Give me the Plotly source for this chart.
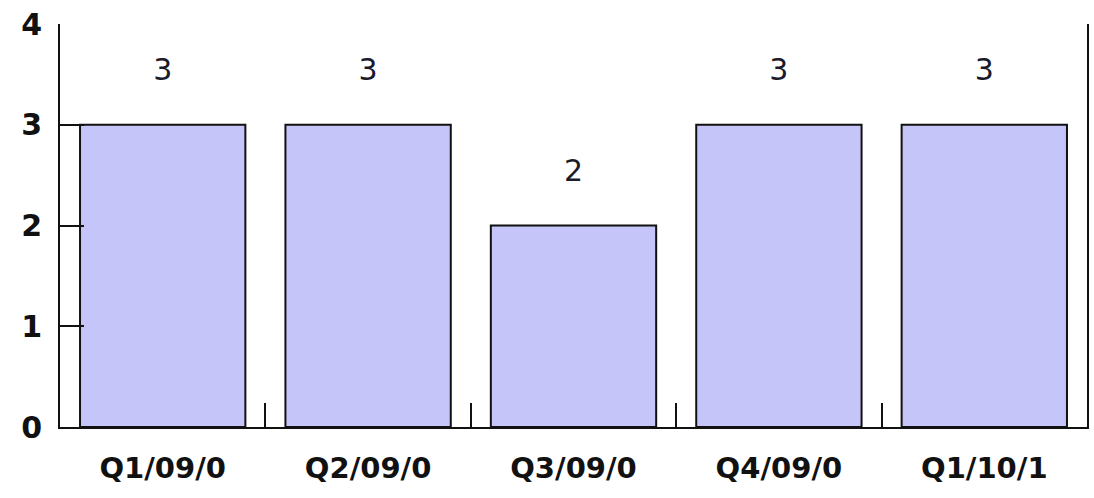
import plotly.graph_objects as go

categories = ["Q1/09/0", "Q2/09/0", "Q3/09/0", "Q4/09/0", "Q1/10/1"]
values = [3, 3, 2, 3, 3]
y_ticks = [0, 1, 2, 3, 4]
label_offset = 0.52

fig = go.Figure()
fig.add_trace(go.Bar(
    x=categories, y=values,
    marker=dict(color="#C5C5FA", line=dict(color="#111111", width=2)),
    hoverinfo="skip",
))
fig.add_trace(go.Scatter(
    x=categories, y=[v + label_offset for v in values],
    mode="text", text=[str(v) for v in values],
    textposition="middle center",
    textfont=dict(family="DejaVu Sans", size=30, color="#1a1a2a"),
    hoverinfo="skip",
))

fig.update_layout(
    width=1094, height=498,
    margin=dict(l=60, r=5, t=24, b=71),
    paper_bgcolor="white", plot_bgcolor="white",
    showlegend=False, bargap=0.195,
    font=dict(family="DejaVu Sans", color="#111111"),
)
fig.update_xaxes(
    type="category", showgrid=False, zeroline=False,
    showline=True, linecolor="#111111", linewidth=2,
    ticks="inside", tickson="boundaries", ticklen=24, tickwidth=2, tickcolor="#111111",
    tickfont=dict(family="DejaVu Sans", size=29, weight="bold", color="#111111"),
    ticklabelstandoff=14,
)
fig.update_yaxes(
    range=[0, 4], tickvals=y_ticks, showgrid=False, zeroline=False,
    showline=True, mirror=True, linecolor="#111111", linewidth=2,
    ticks="inside", ticklen=24, tickwidth=2, tickcolor="#111111",
    tickfont=dict(family="DejaVu Sans", size=30, weight="bold", color="#111111"),
    ticklabelstandoff=10,
)

fig.write_html("out.html")
